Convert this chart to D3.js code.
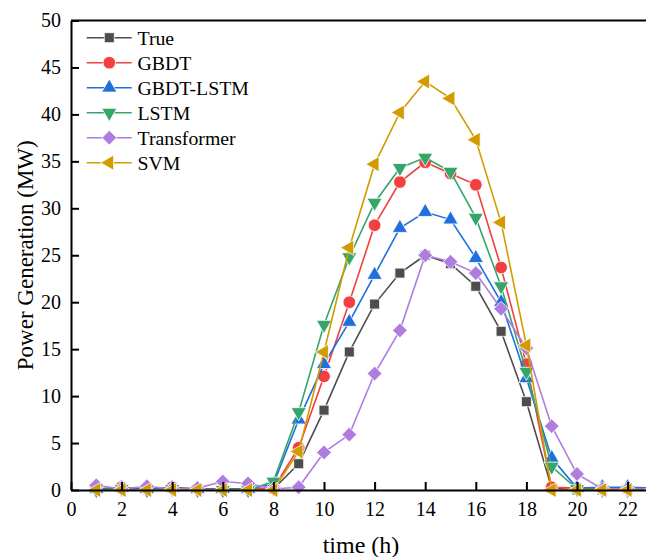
<!DOCTYPE html>
<html>
<head>
<meta charset="utf-8">
<script src="https://cdn.jsdelivr.net/npm/d3@7/dist/d3.min.js"></script>
<style>
  html, body { margin: 0; padding: 0; background: #fff; }
  svg { display: block; font-family: "Liberation Serif", "Times New Roman", serif; }
</style>
</head>
<body>
<svg id="chart" width="646" height="557"></svg>
<script>
// Hourly power generation (MW), hours 1..24
const hours = d3.range(1, 25);
const trueVals        = [0.1, 0.2, 0.1, 0.2, 0.1, 0.1, 0.1, 0.1, 2.8, 8.5, 14.7, 19.8, 23.1, 25.0, 24.1, 21.7, 16.9, 9.4, 0.2, 0.0, 0.0, 0.1, 0.1, 0.1];
const gbdtVals        = [0.1, 0.3, 0.1, 0.3, 0.1, 0.1, 0.1, 0.2, 4.5, 12.1, 20.0, 28.2, 32.8, 34.9, 33.7, 32.5, 23.7, 13.4, 0.3, 0.2, 0.1, 0.1, 0.1, 0.1];
const gbdtLstmVals    = [0.1, 0.2, 0.1, 0.2, 0.1, 0.1, 0.1, 0.6, 7.5, 13.4, 17.9, 22.9, 27.9, 29.6, 28.8, 24.7, 20.0, 11.9, 3.4, 0.2, 0.3, 0.3, 0.2, 0.1];
const lstmVals        = [0.0, 0.1, 0.0, 0.1, 0.0, 0.0, 0.0, 0.9, 8.3, 17.6, 24.8, 30.6, 34.3, 35.4, 33.9, 29.0, 21.7, 12.6, 2.5, 0.1, 0.0, 0.0, 0.0, 0.0];
const transformerVals = [0.5, 0.1, 0.4, 0.1, 0.2, 0.9, 0.7, 0.1, 0.3, 4.0, 5.9, 12.4, 17.0, 25.0, 24.3, 23.1, 19.3, 15.1, 6.8, 1.7, 0.1, 0.1, 0.1, 0.1];
const svmVals         = [0.0, 0.0, 0.0, 0.0, 0.0, 0.0, 0.0, 0.0, 4.1, 14.7, 25.8, 34.7, 40.2, 43.5, 41.7, 37.3, 28.5, 15.4, 0.0, 0.0, 0.0, 0.0, 0.0, 0.0];

const seriesNames = ["True", "GBDT", "GBDT-LSTM", "LSTM", "Transformer", "SVM"];
const seriesValues = [trueVals, gbdtVals, gbdtLstmVals, lstmVals, transformerVals, svmVals];
const seriesColors = ["#4d4d4d", "#f23f3f", "#1f6fdc", "#36a56a", "#b07ce0", "#d29b00"];
const seriesShapes = ["square", "circle", "up", "down", "diamond", "left"];

const xTicks = d3.range(0, 23, 2);
const yTicks = d3.range(0, 51, 5);

const svg = d3.select("#chart");
const margin = { left: 71, top: 20.5, bottom: 490 };
const x = d3.scaleLinear().domain([0, 24]).range([margin.left, margin.left + 24 * 25.3]);
const y = d3.scaleLinear().domain([0, 50]).range([margin.bottom, margin.top]);

// Symbol generator per marker type (diamond = square turned 45 degrees)
function symbolPath(shape) {
  const map = {
    square:  [d3.symbolSquare, 100],
    circle:  [d3.symbolCircle, 125],
    up:      [d3.symbolTriangle, 100],
    down:    [d3.symbolTriangle, 100],
    diamond: [d3.symbolSquare, 110],
    left:    [d3.symbolTriangle, 100]
  };
  const [type, size] = map[shape];
  return d3.symbol().type(type).size(size)();
}
function symbolRotate(shape) {
  if (shape === "down") return 180;
  if (shape === "left") return -90;
  if (shape === "diamond") return 45;
  return 0;
}

// Series lines and markers
const line = d3.line().x((d, i) => x(hours[i])).y(d => y(d));
seriesValues.forEach((vals, k) => {
  const g = svg.append("g");
  g.append("path")
    .datum(vals)
    .attr("d", line)
    .attr("fill", "none")
    .attr("stroke", seriesColors[k])
    .attr("stroke-width", 1.6);
  g.selectAll("path.m")
    .data(vals)
    .join("path")
    .attr("class", "m")
    .attr("d", symbolPath(seriesShapes[k]))
    .attr("transform", (d, i) => `translate(${x(hours[i])},${y(d)}) rotate(${symbolRotate(seriesShapes[k])})`)
    .attr("fill", seriesColors[k])
    .attr("stroke", "#fff")
    .attr("stroke-width", 0.8);
});

// Frame (top and right edges)
svg.append("line")
  .attr("x1", x(0)).attr("x2", x(24))
  .attr("y1", y(50)).attr("y2", y(50))
  .attr("stroke", "#000").attr("stroke-width", 2);
svg.append("line")
  .attr("x1", x(24)).attr("x2", x(24))
  .attr("y1", y(0)).attr("y2", y(50))
  .attr("stroke", "#000").attr("stroke-width", 2);

// Axes with inward ticks
const xAxis = d3.axisBottom(x).tickValues(xTicks).tickSizeInner(-8).tickSizeOuter(0).tickPadding(16);
const yAxis = d3.axisLeft(y).tickValues(yTicks).tickSizeInner(-8).tickSizeOuter(0).tickPadding(16);

const gx = svg.append("g").attr("transform", `translate(0,${y(0)})`).call(xAxis);
const gy = svg.append("g").attr("transform", `translate(${x(0)},0)`).call(yAxis);
[gx, gy].forEach(g => {
  g.select(".domain").attr("stroke", "#000").attr("stroke-width", 2);
  g.selectAll(".tick line").attr("stroke", "#000").attr("stroke-width", 2);
  g.selectAll(".tick text")
    .attr("fill", "#000")
    .style("font-family", "'Liberation Serif', 'Times New Roman', serif")
    .style("font-size", "20px");
});
gx.selectAll(".tick text").attr("dy", "0.71em").attr("y", 12);
gy.selectAll(".tick text").attr("x", -10);

// Axis titles
svg.append("text")
  .attr("x", 361).attr("y", 553)
  .attr("text-anchor", "middle")
  .style("font-size", "24px")
  .text("time (h)");
svg.append("text")
  .attr("transform", `translate(33,${(y(0) + y(50)) / 2}) rotate(-90)`)
  .attr("text-anchor", "middle")
  .style("font-size", "23px")
  .text("Power Generation (MW)");

// Legend
const legend = svg.append("g");
seriesNames.forEach((name, k) => {
  const yy = 37.7 + k * 25;
  legend.append("line")
    .attr("x1", 86.7).attr("x2", 131.7)
    .attr("y1", yy).attr("y2", yy)
    .attr("stroke", seriesColors[k]).attr("stroke-width", 1.6);
  legend.append("path")
    .attr("d", symbolPath(seriesShapes[k]))
    .attr("transform", `translate(109.3,${yy}) rotate(${symbolRotate(seriesShapes[k])})`)
    .attr("fill", seriesColors[k])
    .attr("stroke", "#fff").attr("stroke-width", 0.8);
  legend.append("text")
    .attr("x", 137.5).attr("y", yy)
    .attr("dy", "0.35em")
    .style("font-size", "19.8px")
    .text(name);
});
</script>
</body>
</html>
